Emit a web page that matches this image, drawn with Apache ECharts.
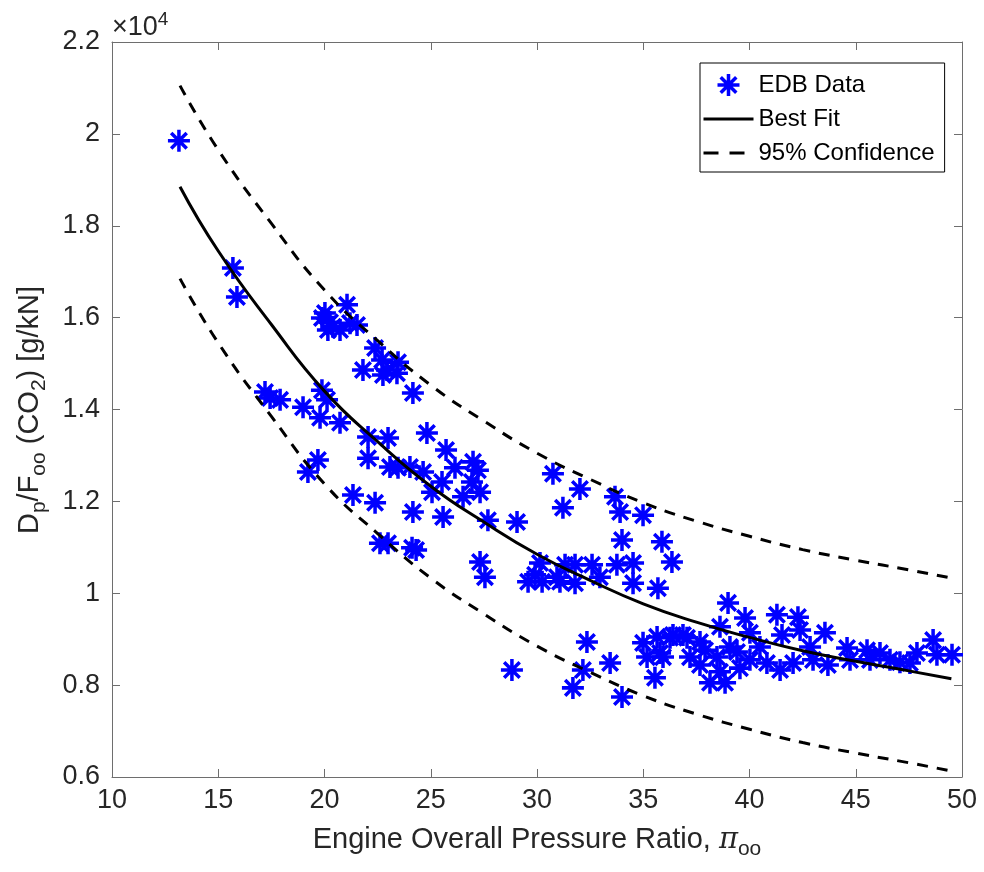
<!DOCTYPE html>
<html>
<head>
<meta charset="utf-8">
<script src="https://cdn.jsdelivr.net/npm/echarts@6/dist/echarts.min.js"></script>
<style>
  html, body { margin: 0; padding: 0; background: #fff; }
  #chart { width: 984px; height: 872px; }
</style>
</head>
<body>
<div id="chart"></div>
<script>
// EDB data points (pressure ratio, g/kN)
var edbX = [13.15, 15.69, 15.88, 17.20, 17.44, 17.91, 18.99, 19.69, 19.22, 19.88, 19.79, 20.12,
  20.02, 19.88, 20.26, 20.40, 20.16, 20.73, 21.06, 21.20, 21.53, 22.38, 22.71, 23.46, 22.94, 23.41,
  21.81, 22.75, 24.16, 20.73, 22.05, 22.99, 24.82, 22.05, 23.08, 23.46, 24.02, 24.64, 21.34, 22.38,
  24.16, 22.61, 22.99, 24.12, 24.31, 25.72, 26.99, 26.14, 25.53, 27.22, 26.94, 25.06, 26.52, 27.32,
  25.58, 27.69, 29.06, 27.32, 27.55, 30.75, 32.02, 31.22, 33.67, 33.91, 34.99, 34.00, 35.88, 36.35,
  30.14, 29.58, 30.24, 29.91, 31.32, 31.08, 31.79, 31.79, 32.59, 32.96, 33.76, 34.52, 34.52, 35.69,
  30.94, 28.82, 31.69, 32.16, 32.35, 33.44, 34.00, 35.55, 34.99, 35.65, 36.40, 37.06, 35.18, 35.79,
  37.20, 35.93, 36.26, 36.87, 37.67, 38.47, 39.41, 40.02, 40.82, 42.05, 42.99, 38.14, 38.85, 38.61,
  40.49, 39.08, 38.99, 39.79, 41.29, 42.28, 38.61, 42.38, 41.53, 40.02, 43.55, 42.85, 44.59, 45.53,
  46.14, 46.61, 47.08, 47.55, 47.88, 48.64, 48.82, 49.53, 43.69, 37.67, 41.44, 44.73, 45.67, 39.55,
  37.91];
var edbY = [19850, 17080, 16450, 14380, 14250, 14210, 14050, 12900, 12640, 14420, 13820, 14210,
  16100, 15990, 15900, 15800, 15730, 15730, 16280, 15880, 15840, 15340, 15080, 15030, 14860, 14790,
  14860, 14750, 14360, 13710, 13400, 13380, 13490, 12940, 12750, 12730, 12750, 12640, 12140, 11970,
  11770, 11090, 11090, 10990, 10940, 13120, 12860, 12730, 12420, 12680, 12420, 12200, 12100, 12200,
  11660, 11590, 11550, 10680, 10350, 12600, 12270, 11860, 12100, 11770, 11700, 11160, 11120, 10680,
  10660, 10250, 10250, 10400, 10620, 10250, 10220, 10620, 10620, 10350, 10620, 10660, 10220, 10110,
  10350, 8330, 7940, 8330, 8940, 8480, 7740, 8160, 8920, 9050, 9090, 9030, 8610, 8700,
  8610, 8610, 9030, 9090, 8940, 8610, 8720, 8550, 8480, 8480, 8550, 8050, 8050, 8290,
  8830, 8830, 9790, 9460, 9530, 9480, 9270, 9200, 9090, 9140, 9140, 8830, 8810, 8760,
  8700, 8550, 8500, 8480, 8700, 8980, 8660, 8660, 8440, 8440, 8330, 8550, 8550, 8370,
  8760];

// fit and confidence curves
var fitX   = [13.2, 15, 17.5, 20, 22.5, 25, 27.5, 30, 32.5, 35, 37.5, 40, 42.5, 45, 47.5, 49.5];
var fitY   = [18850, 17450, 15850, 14400, 13300, 12330, 11550, 10850, 10280, 9770, 9370, 9040, 8750, 8520, 8310, 8140];
var upperY = [21050, 19650, 18050, 16600, 15500, 14530, 13750, 13050, 12480, 11970, 11570, 11240, 10950, 10720, 10510, 10330];
var lowerY = [16850, 15450, 13850, 12380, 11300, 10330, 9550, 8850, 8280, 7770, 7370, 7040, 6750, 6520, 6310, 6130];

var FONT = '"Liberation Sans", Arial, sans-serif';
var TXT = '#262626';
var AX = '#6e6e6e';
// matlab style asterisk marker
var STAR = 'path://M0 42L100 42L100 58L0 58Z M42 0L58 0L58 100L42 100Z ' +
  'M20.3 8.98L91.02 79.7L79.7 91.02L8.98 20.3Z M8.98 79.7L79.7 8.98L91.02 20.3L20.3 91.02Z';

function pairs(xs, ys) {
  var out = [];
  for (var i = 0; i < xs.length; i++) out.push([xs[i], ys[i]]);
  return out;
}

function xAxisCfg(pos, labels) {
  return {
    type: 'value', min: 10, max: 50, interval: 5, position: pos,
    axisLine: { show: true, onZero: false, lineStyle: { color: AX, width: 1 } },
    axisTick: { show: true, inside: true, length: 8, lineStyle: { color: AX, width: 1 } },
    axisLabel: { show: labels, margin: 10, fontSize: 27, color: TXT, fontFamily: FONT },
    splitLine: { show: false }
  };
}
function yAxisCfg(pos, labels) {
  return {
    type: 'value', min: 6000, max: 22000, interval: 2000, position: pos,
    axisLine: { show: true, onZero: false, lineStyle: { color: AX, width: 1 } },
    axisTick: { show: true, inside: true, length: 8, lineStyle: { color: AX, width: 1 } },
    axisLabel: {
      show: labels, margin: 12, fontSize: 27, color: TXT, fontFamily: FONT,
      formatter: function (v) { return String(parseFloat((v / 10000).toFixed(1))); }
    },
    splitLine: { show: false }
  };
}

var chart = echarts.init(document.getElementById('chart'));
var option = {
  animation: false,
  backgroundColor: '#fff',
  grid: { left: 112, right: 22, top: 42, bottom: 95 },
  xAxis: [xAxisCfg('bottom', true), xAxisCfg('top', false)],
  yAxis: [yAxisCfg('left', true), yAxisCfg('right', false)],
  legend: {
    orient: 'vertical', left: 700, top: 63,
    itemWidth: 50, itemHeight: 22, itemGap: 10,
    padding: [10, 10, 7, 2],
    backgroundColor: '#fff', borderColor: '#000', borderWidth: 1, borderRadius: 0,
    textStyle: { fontSize: 24, color: '#000', fontFamily: FONT },
    data: [
      { name: 'EDB Data' },
      { name: 'Best Fit', itemStyle: { opacity: 0 },
        lineStyle: { width: 3, color: '#000', type: 'solid' } },
      { name: '95% Confidence', itemStyle: { opacity: 0 },
        lineStyle: { width: 3, color: '#000', type: [15, 11] } }
    ]
  },
  graphic: [
    {
      type: 'text', x: 112, y: 28, z: 10,
      style: {
        text: '{a|×10}{s|4}', align: 'left', verticalAlign: 'middle',
        rich: {
          a: { fontSize: 27, fontFamily: FONT, fill: TXT, color: TXT, lineHeight: 36, verticalAlign: 'middle' },
          s: { fontSize: 19, fontFamily: FONT, fill: TXT, color: TXT, lineHeight: 19, verticalAlign: 'top' }
        }
      }
    },
    {
      type: 'text', x: 537, y: 840, z: 10,
      style: {
        text: '{b|Engine Overall Pressure Ratio, }{p|π}{s|oo}', align: 'center', verticalAlign: 'middle',
        rich: {
          b: { fontSize: 29, fontFamily: FONT, fill: TXT, color: TXT, lineHeight: 40, verticalAlign: 'middle' },
          p: { fontSize: 29, fontFamily: '"DejaVu Serif", serif', fontStyle: 'italic', fill: TXT, color: TXT, lineHeight: 40, verticalAlign: 'middle' },
          s: { fontSize: 21, fontFamily: FONT, fill: TXT, color: TXT, lineHeight: 21, verticalAlign: 'bottom' }
        }
      }
    },
    {
      type: 'text', x: 30, y: 410, rotation: Math.PI / 2, z: 10,
      style: {
        text: '{b|D}{s|p}{b|/F}{s|oo}{b| (CO}{s|2}{b|) [g/kN]}', align: 'center', verticalAlign: 'middle',
        rich: {
          b: { fontSize: 29, fontFamily: FONT, fill: TXT, color: TXT, lineHeight: 40, verticalAlign: 'middle' },
          s: { fontSize: 21, fontFamily: FONT, fill: TXT, color: TXT, lineHeight: 21, verticalAlign: 'bottom' }
        }
      }
    }
  ],
  series: [
    {
      name: 'EDB Data', type: 'scatter', data: pairs(edbX, edbY),
      symbol: STAR, symbolSize: 22, symbolKeepAspect: true,
      itemStyle: { color: '#0000ff', opacity: 1 }, z: 2
    },
    {
      name: 'Best Fit', type: 'line', data: pairs(fitX, fitY), smooth: true,
      symbol: 'none', lineStyle: { color: '#000', width: 3 }, itemStyle: { color: '#000' }, z: 3
    },
    {
      name: '95% Confidence', type: 'line', data: pairs(fitX, upperY), smooth: true,
      symbol: 'none', lineStyle: { color: '#000', width: 3, type: [11, 9] }, itemStyle: { color: '#000' }, z: 3
    },
    {
      name: '95% Confidence', type: 'line', data: pairs(fitX, lowerY), smooth: true,
      symbol: 'none', lineStyle: { color: '#000', width: 3, type: [11, 9] }, itemStyle: { color: '#000' }, z: 3
    }
  ]
};
chart.setOption(option);
</script>
</body>
</html>
